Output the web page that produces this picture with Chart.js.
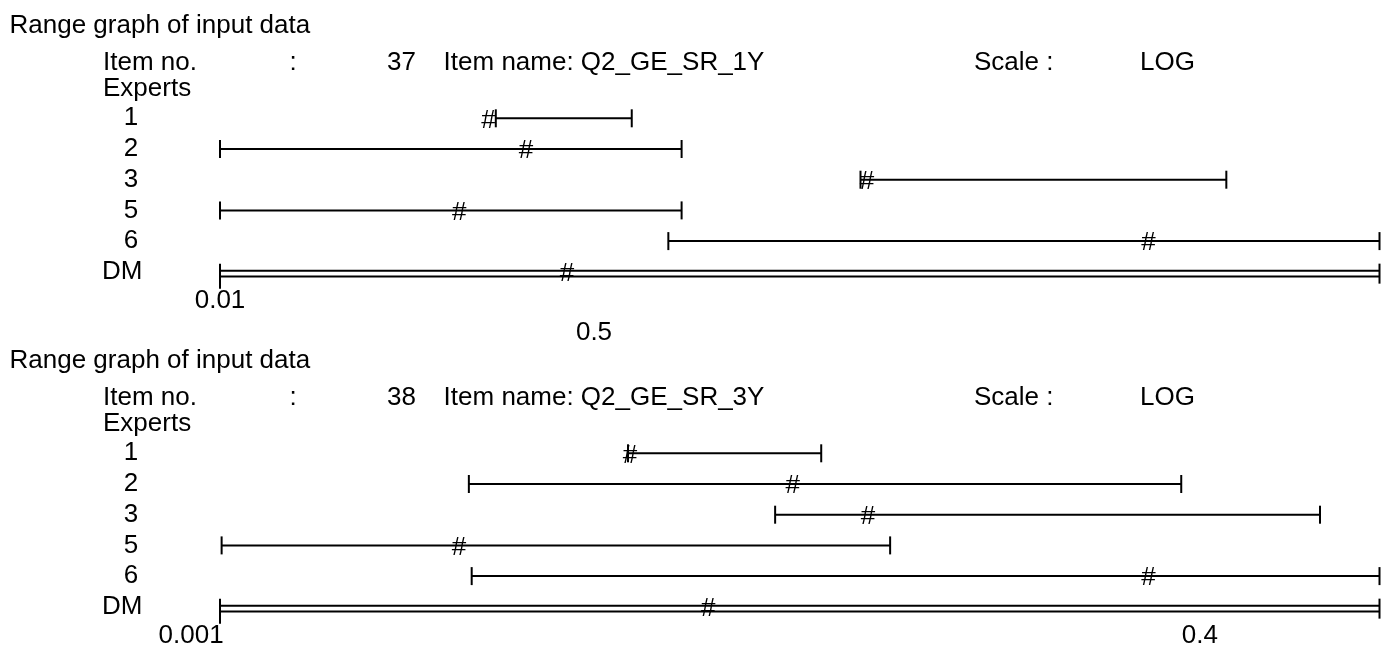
<!DOCTYPE html>
<html>
<head>
<meta charset="utf-8">
<script src="https://cdn.jsdelivr.net/npm/chart.js@4.4.1/dist/chart.umd.min.js"></script>
<style>
  html, body { margin: 0; padding: 0; background: #fff; }
  body { width: 1381px; height: 649px; position: relative; overflow: hidden;
         font-family: "Liberation Sans", Arial, sans-serif; font-size: 26px; color: #000; }
  .panel { position: absolute; left: 0; width: 1381px; }
  .panel canvas { position: absolute; left: 0; top: 0; }
  .t { position: absolute; white-space: pre; line-height: 30px; }
</style>
</head>
<body>
<div class="panel" id="p37" style="top:0;height:350px"><canvas id="c37" width="1381" height="350"></canvas></div>
<div class="panel" id="p38" style="top:335px;height:314px"><canvas id="c38" width="1381" height="314"></canvas></div>
<script>
// experts (rows), same for both items
const experts = ["1", "2", "3", "5", "6", "DM"];

// item 37 : Q2_GE_SR_1Y  (lower bound, upper bound, median "#")
const item37Low = [0.179, 0.01, 8.12, 0.01, 1.088, 0.01];
const item37High = [0.742, 1.25, 372.7, 1.25, 1850, 1850];
const item37Med = [0.166, 0.2455, 8.7, 0.122, 165.2, 0.377];
const item37Ticks = [0.01, 0.5];

// item 38 : Q2_GE_SR_3Y
const item38Low = [0.01212, 0.00458, 0.0298, 0.00101, 0.00466, 0.001];
const item38High = [0.0395, 0.357, 0.834, 0.0602, 1.2, 1.2];
const item38Med = [0.01227, 0.0332, 0.0526, 0.00431, 0.292, 0.0198];
const item38Ticks = [0.001, 0.4];

const FONT = "'Liberation Sans', Arial, sans-serif";
Chart.defaults.font.family = FONT;
Chart.defaults.font.size = 26;
Chart.defaults.color = "#000";

function header(panelId, itemNo, itemName) {
  const el = document.getElementById(panelId);
  const parts = [
    ["Range graph of input data", 9.5, 8.5],
    ["Item no.", 103, 46.3],
    [":", 289.5, 46.3],
    [itemNo, 387, 46.3],
    ["Item name: " + itemName, 443.6, 46.3],
    ["Scale :", 974, 46.3],
    ["LOG", 1140, 46.3],
    ["Experts", 103, 72.3],
  ];
  parts.forEach(([txt, x, y]) => {
    const d = document.createElement("div");
    d.className = "t";
    d.style.left = x + "px";
    d.style.top = y + "px";
    d.textContent = txt;
    el.appendChild(d);
  });
}

// draws the "#" median marks at the points of the median dataset
const hashMarks = {
  id: "hashMarks",
  afterDatasetsDraw(chart) {
    const ctx = chart.ctx;
    chart.data.datasets.forEach((ds, di) => {
      if (!ds.median) return;
      ctx.save();
      ctx.font = "26px " + FONT;
      ctx.fillStyle = "#000";
      ctx.textAlign = "center";
      ctx.textBaseline = "alphabetic";
      chart.getDatasetMeta(di).data.forEach((pt) => ctx.fillText("#", pt.x, pt.y + 9.3));
      ctx.restore();
    });
  },
};

function rangeChart(canvasId, low, high, med, tickVals, xAxisHeight, tickStyle) {
  const dm = experts.length - 1;
  const line = { showLine: true, borderColor: "#000", borderWidth: 2, clip: false };
  const caps = { pointStyle: "line", rotation: 90, pointBorderWidth: 2, pointBorderColor: "#000" };

  const datasets = experts.slice(0, dm).map((e, i) => ({
    label: e,
    data: [{ x: low[i], y: i }, { x: high[i], y: i }],
    ...line, ...caps, pointRadius: 9,
  }));
  // decision maker: double line with end bars
  [-0.035, 0.15].forEach((off) => datasets.push({
    label: "DM",
    data: [{ x: low[dm], y: dm + off }, { x: high[dm], y: dm + off }],
    ...line, pointRadius: 0,
  }));
  datasets.push({
    label: "DM ends",
    data: [{ x: low[dm], y: dm + 0.06 }, { x: high[dm], y: dm + 0.06 }],
    showLine: false, clip: false, ...caps, pointRadius: 10,
  });
  datasets.push({
    label: "median",
    median: true,
    data: med.map((m, i) => ({ x: m, y: i })),
    showLine: false, clip: false, pointRadius: 0,
  });

  return new Chart(document.getElementById(canvasId), {
    type: "scatter",
    data: { datasets },
    plugins: [hashMarks],
    options: {
      responsive: false,
      animation: false,
      events: [],
      layout: { autoPadding: false, padding: { top: 118.3, left: 102, right: 1.5, bottom: 0 } },
      plugins: { legend: { display: false }, tooltip: { enabled: false } },
      scales: {
        x: {
          type: "logarithmic",
          position: "bottom",
          bounds: "data",
          min: Math.min(...low),
          max: Math.max(...high),
          afterBuildTicks: (s) => { s.ticks = tickVals.map((v) => ({ value: v })); },
          afterFit: (s) => { s.height = xAxisHeight; s.paddingLeft = 0; s.paddingRight = 0; },
          border: { display: false },
          grid: {
            drawOnChartArea: false,
            drawTicks: true,
            tickLength: 17,
            lineWidth: 2,
            color: (c) => (c.index === 0 ? "#000" : "rgba(0,0,0,0)"),
          },
          ticks: {
            autoSkip: false,
            maxRotation: 0,
            minRotation: 0,
            padding: -3.8,
            font: { size: 26, lineHeight: 1.23 },
            callback: (v, i) => tickStyle(String(tickVals[i]), i),
          },
        },
        y: {
          type: "linear",
          reverse: true,
          bounds: "data",
          min: 0,
          max: dm,
          afterBuildTicks: (s) => { s.ticks = experts.map((e, i) => ({ value: i })); },
          afterFit: (s) => { s.width = 118; s.paddingTop = 0; s.paddingBottom = 0; },
          border: { display: false },
          grid: { display: false },
          ticks: {
            autoSkip: false,
            crossAlign: "far",
            padding: 0,
            font: { size: 26 },
            callback: (v) => (experts[v].length === 1 ? "   " + experts[v] : experts[v]),
          },
        },
      },
    },
  });
}

header("p37", "37", "Q2_GE_SR_1Y");
header("p38", "38", "Q2_GE_SR_3Y");

// item 37: upper tick label sits one text line lower
rangeChart("c37", item37Low, item37High, item37Med, item37Ticks, 350 - 271.8,
  (s, i) => (i === 1 ? ["", s] : s));
// item 38: lower tick label ends at the axis start
rangeChart("c38", item38Low, item38High, item38Med, item38Ticks, 314 - 271.8,
  (s, i) => (i === 0 ? s + "        " : s));
</script>
</body>
</html>
